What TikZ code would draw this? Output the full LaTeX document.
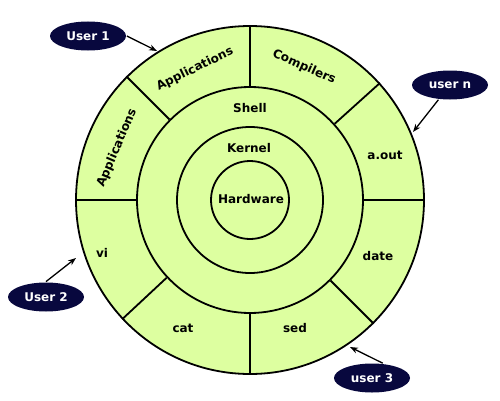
\documentclass[tikz,border=0pt]{standalone}
\usepackage{fontspec}
\setmainfont{DejaVu Sans}
\usetikzlibrary{arrows.meta, positioning, shapes.geometric}

\definecolor{ringgreen}{RGB}{221,255,160}
\definecolor{usernavy}{RGB}{8,8,62}

\begin{document}
\begin{tikzpicture}[x=1pt, y=1pt, line width=1.8pt,
		ring/.style={draw, circle, inner sep=0pt},
		lbl/.style={font=\fontsize{12}{14}\selectfont\bfseries, inner sep=1pt},
		user/.style={ellipse, fill=usernavy, text=white, minimum width=76pt, minimum height=29pt, inner sep=0pt, font=\fontsize{12}{14}\selectfont\bfseries},
		toshell/.style={-{Stealth[length=8pt, width=6pt]}, line width=1.3pt}]
				\useasboundingbox (0,0) rectangle (500,400);
				\coordinate (c) at (250,200);

				% Draw the rings
				\node[ring, fill=ringgreen, minimum size=348pt] (outer) at (c) {};
				\node[ring, minimum size=226pt] (shell) at (c) {};
				\node[ring, minimum size=146pt] (kernel) at (c) {};
				\node[ring, minimum size=78pt] (hw) at (c) {};

				% Draw the lines between the programs
				\foreach \a in {0, 42, 90, 135, 180, 223, 270, 315}
					\draw (shell.\a) -- (outer.\a);

				% Programs in the outer ring
				\node[lbl, rotate=26] (app1) at (195,331) {Applications};
				\node[lbl, rotate=67] (app2) at (117,252) {Applications};
				\node[lbl, rotate=-24] (comp) at (304,333) {Compilers};
				\node[lbl] (aout) at (385,245) {a.out};
				\node[lbl] (date) at (378,144) {date};
				\node[lbl] (sed) at (295,72) {sed};
				\node[lbl] (cat) at (183,72) {cat};
				\node[lbl] (vi) at (102,147) {vi};

				% Inner layers
				\node[lbl] (shelltxt) at (250,292) {Shell};
				\node[lbl] (kerneltxt) at (249,252) {Kernel};
				\node[lbl] (hwtxt) at (251,201) {Hardware};

				% Draw the users
				\node[user] (u1) at (88,364) {User 1};
				\node[user] (un) at (450,315) {user n};
				\node[user] (u2) at (46,103) {User 2};
				\node[user] (u3) at (372,22) {user 3};

				\coordinate (t1) at (157,349);
				\coordinate (tn) at (413,268);
				\coordinate (t2) at (76,142);
				\coordinate (t3) at (350,53);

				\draw[toshell] (u1.east) -- (t1);
				\draw[toshell] (un) -- (tn);
				\draw[toshell] (u2.north) -- (t2);
				\draw[toshell] (u3.54) -- (t3);
			\end{tikzpicture}
\end{document}
